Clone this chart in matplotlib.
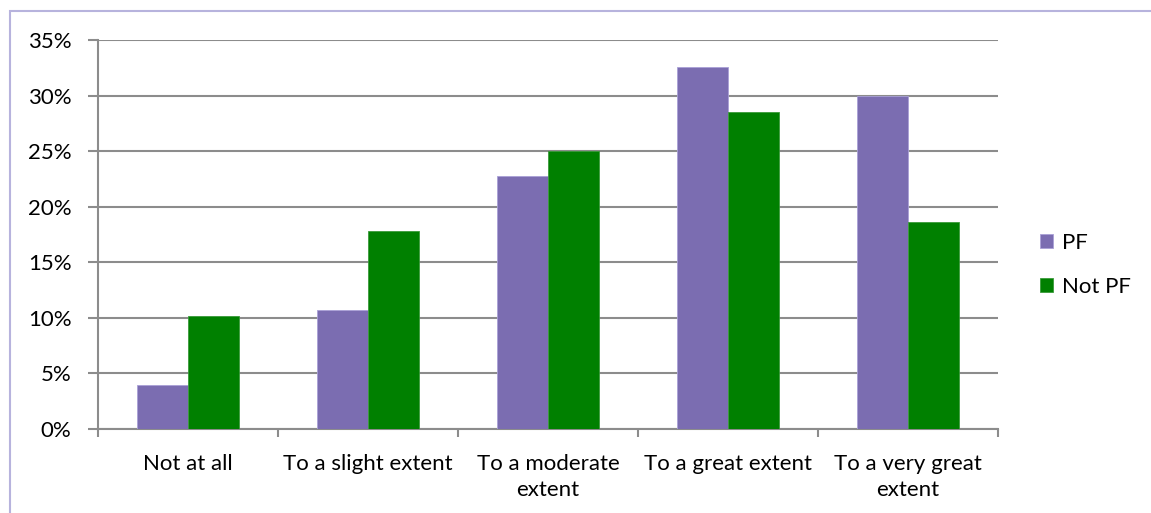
import matplotlib
matplotlib.use("Agg")
import matplotlib.pyplot as plt
import numpy as np
from matplotlib.patches import Rectangle
from matplotlib.ticker import FuncFormatter, MultipleLocator

categories = ["Not at all", "To a slight extent", "To a moderate\nextent",
              "To a great extent", "To a very great\nextent"]
pf = [4.0, 10.7, 22.8, 32.6, 30.0]
not_pf = [10.2, 17.8, 25.0, 28.5, 18.6]
series_names = ["PF", "Not PF"]
colors = ["#7b6db1", "#008000"]

plt.rcParams["font.family"] = ["Lato", "DejaVu Sans"]

W, H = 1151, 513
fig = plt.figure(figsize=(W / 100, H / 100), dpi=100)

# light purple outer frame
fig.patches.append(Rectangle((9.5 / W, -0.1), 1.2, (H - 10.5) / H + 0.1,
                             transform=fig.transFigure, fill=False,
                             edgecolor="#b7b3dd", linewidth=1.5))

ax = fig.add_axes([98 / W, 1 - 429 / H, 900 / W, 389 / H])

x = np.arange(len(categories))
bw = 1 / 3.5
ax.bar(x - bw / 2, pf, width=bw, color=colors[0], label=series_names[0], zorder=3,
       edgecolor="#a9a0d6", linewidth=0.6)
ax.bar(x + bw / 2, not_pf, width=bw, color=colors[1], label=series_names[1], zorder=3,
       edgecolor="#3a9a3a", linewidth=0.6)

ax.set_xlim(-0.5, len(categories) - 0.5)
ax.set_ylim(0, 35)
ax.yaxis.set_major_locator(MultipleLocator(5))
ax.yaxis.set_major_formatter(FuncFormatter(lambda v, p: f"{v:.0f}%"))
ax.grid(axis="y", color="#8c8c8c", linewidth=1.5, zorder=0)

for side in ["top", "right"]:
    ax.spines[side].set_visible(False)
for side in ["left", "bottom"]:
    ax.spines[side].set_color("#8c8c8c")
    ax.spines[side].set_linewidth(1.5)

# category labels centred, ticks at category boundaries
ax.set_xticks(x)
ax.set_xticklabels(categories, fontsize=16, color="#000000", linespacing=1.4)
ax.tick_params(axis="x", length=0, pad=18)
ax.set_xticks(np.arange(len(categories) + 1) - 0.5, minor=True)
ax.tick_params(axis="x", which="minor", length=6, width=1.5, color="#8c8c8c")
ax.tick_params(axis="y", length=7, width=1.5, color="#8c8c8c", labelsize=16, pad=12)

handles, labels = ax.get_legend_handles_labels()
fig.legend(handles, labels, loc="center left", bbox_to_anchor=(1031 / W, 1 - 265 / H),
           frameon=False, fontsize=16, handlelength=0.6, handleheight=0.6,
           handletextpad=0.4, labelspacing=1.1, borderaxespad=0)

fig.savefig("out.png", dpi=100, facecolor="white")
